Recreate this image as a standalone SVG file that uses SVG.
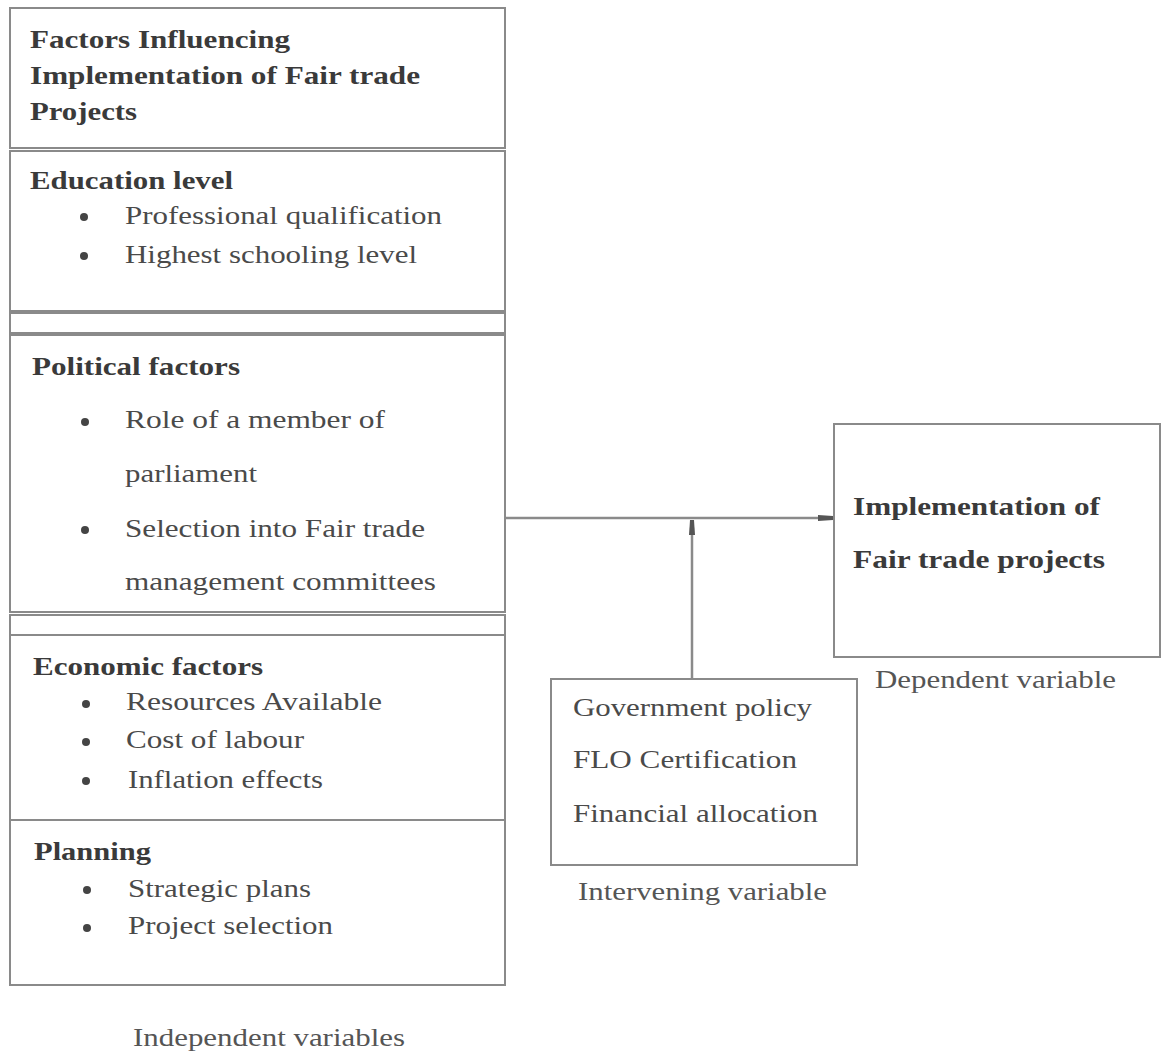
<svg xmlns="http://www.w3.org/2000/svg" width="1165" height="1055" viewBox="0 0 1165 1055">
<style>
  .box { fill: #ffffff; stroke: #8a8a8a; stroke-width: 2; }
  .t { font-family: "Liberation Serif", "Times New Roman", serif; font-size: 26px; fill: #4a4a4a; }
  .b { font-family: "Liberation Serif", "Times New Roman", serif; font-size: 25px; font-weight: bold; fill: #3a3a3a; }
  .lbl { font-family: "Liberation Serif", "Times New Roman", serif; font-size: 25px; fill: #555555; }
  .dot { fill: #444444; }
  .conn { stroke: #8a8a8a; stroke-width: 2.5; fill: none; }
</style>
<defs>
  <marker id="arr" markerUnits="userSpaceOnUse" markerWidth="15" markerHeight="9" refX="15" refY="4.5" orient="auto">
    <path d="M0,1.5 L15,2.5 L15,6.5 L0,7.5 z" fill="#555555"/>
  </marker>
</defs>
<rect width="1165" height="1055" fill="#ffffff"/>

<g id="independent">
  <g id="header">
    <rect class="box" x="10" y="8" width="495" height="140"/>
    <text class="b" x="30" y="48" textLength="260" lengthAdjust="spacingAndGlyphs">Factors Influencing</text>
    <text class="b" x="30" y="84" textLength="390" lengthAdjust="spacingAndGlyphs">Implementation of Fair trade</text>
    <text class="b" x="30" y="120" textLength="107" lengthAdjust="spacingAndGlyphs">Projects</text>
  </g>
  <g id="education">
    <rect class="box" x="10" y="151" width="495" height="160"/>
    <text class="b" x="30" y="189" textLength="203" lengthAdjust="spacingAndGlyphs">Education level</text>
    <circle class="dot" cx="84" cy="217" r="4"/>
    <text class="t" x="125" y="224" textLength="317" lengthAdjust="spacingAndGlyphs">Professional qualification</text>
    <circle class="dot" cx="84" cy="256" r="4"/>
    <text class="t" x="125" y="263" textLength="292" lengthAdjust="spacingAndGlyphs">Highest schooling level</text>
  </g>
  <g id="strip1">
    <rect class="box" x="10" y="313" width="495" height="20"/>
  </g>
  <g id="political">
    <rect class="box" x="10" y="335" width="495" height="277"/>
    <text class="b" x="32" y="375" textLength="208" lengthAdjust="spacingAndGlyphs">Political factors</text>
    <circle class="dot" cx="85" cy="422" r="4"/>
    <text class="t" x="125" y="428" textLength="260" lengthAdjust="spacingAndGlyphs">Role of a member of</text>
    <text class="t" x="125" y="482" textLength="132" lengthAdjust="spacingAndGlyphs">parliament</text>
    <circle class="dot" cx="85" cy="530" r="4"/>
    <text class="t" x="125" y="537" textLength="300" lengthAdjust="spacingAndGlyphs">Selection into Fair trade</text>
    <text class="t" x="125" y="590" textLength="311" lengthAdjust="spacingAndGlyphs">management committees</text>
  </g>
  <g id="strip2">
    <rect class="box" x="10" y="615" width="495" height="20"/>
  </g>
  <g id="economic">
    <rect class="box" x="10" y="635" width="495" height="185"/>
    <text class="b" x="33" y="675" textLength="230" lengthAdjust="spacingAndGlyphs">Economic factors</text>
    <circle class="dot" cx="86" cy="704" r="4"/>
    <text class="t" x="126" y="710" textLength="256" lengthAdjust="spacingAndGlyphs">Resources Available</text>
    <circle class="dot" cx="86" cy="742" r="4"/>
    <text class="t" x="126" y="748" textLength="178" lengthAdjust="spacingAndGlyphs">Cost of labour</text>
    <circle class="dot" cx="86" cy="781" r="4"/>
    <text class="t" x="128" y="788" textLength="195" lengthAdjust="spacingAndGlyphs">Inflation effects</text>
  </g>
  <g id="planning">
    <rect class="box" x="10" y="820" width="495" height="165"/>
    <text class="b" x="34" y="860" textLength="117" lengthAdjust="spacingAndGlyphs">Planning</text>
    <circle class="dot" cx="87" cy="890" r="4"/>
    <text class="t" x="128" y="897" textLength="183" lengthAdjust="spacingAndGlyphs">Strategic plans</text>
    <circle class="dot" cx="87" cy="928" r="4"/>
    <text class="t" x="128" y="934" textLength="205" lengthAdjust="spacingAndGlyphs">Project selection</text>
  </g>
  <text class="lbl" x="133" y="1046" textLength="272" lengthAdjust="spacingAndGlyphs">Independent variables</text>
</g>

<g id="dependent">
  <rect class="box" x="834" y="424" width="326" height="233"/>
  <text class="b" x="853" y="515" textLength="247" lengthAdjust="spacingAndGlyphs">Implementation of</text>
  <text class="b" x="853" y="568" textLength="252" lengthAdjust="spacingAndGlyphs">Fair trade projects</text>
  <text class="lbl" x="875" y="688" textLength="241" lengthAdjust="spacingAndGlyphs">Dependent variable</text>
</g>

<g id="intervening">
  <rect class="box" x="551" y="679" width="306" height="186"/>
  <text class="t" x="573" y="716" textLength="239" lengthAdjust="spacingAndGlyphs">Government policy</text>
  <text class="t" x="573" y="768" textLength="224" lengthAdjust="spacingAndGlyphs">FLO Certification</text>
  <text class="t" x="573" y="822" textLength="245" lengthAdjust="spacingAndGlyphs">Financial allocation</text>
  <text class="lbl" x="578" y="900" textLength="249" lengthAdjust="spacingAndGlyphs">Intervening variable</text>
</g>

<g id="connectors">
  <line class="conn" x1="505" y1="518" x2="833" y2="518" marker-end="url(#arr)"/>
  <line class="conn" x1="692" y1="679" x2="692" y2="520" marker-end="url(#arr)"/>
</g>
</svg>
